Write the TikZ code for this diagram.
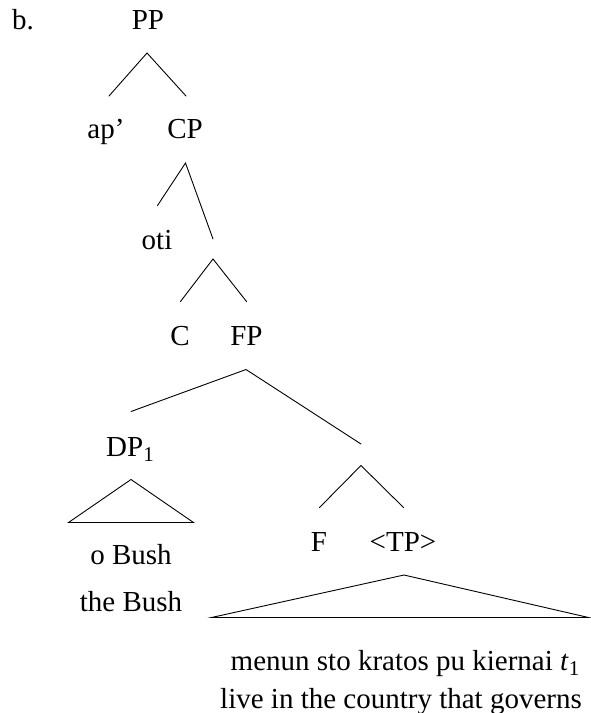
\documentclass[tikz,border=0pt]{standalone}
\usepackage{fontspec}
\setmainfont{Liberation Serif}
\newcommand\mysub[1]{\raisebox{-0.2em}{\fontsize{21}{24}\selectfont #1}}
\begin{document}
\begin{tikzpicture}[x=1pt,y=-1pt,
  lbl/.style={inner sep=0pt,anchor=base,font=\fontsize{29}{34}\selectfont},
  edge/.style={line width=0.9pt,line cap=round,line join=miter}]
\useasboundingbox (0,0) rectangle (590,713);
% labels
\node[lbl,anchor=base west] (ex) at (12,29) {b.};
\node[lbl] (PP) at (148,29) {PP};
\node[lbl] (ap) at (106,138) {ap’};
\node[lbl] (CP) at (185,138) {CP};
\node[lbl] (oti) at (157,249) {oti};
\node[lbl] (C) at (180,345) {C};
\node[lbl] (FP) at (246.5,345) {FP};
\node[lbl] (DP) at (130,456) {DP\mysub{1}};
\node[lbl] (obush) at (131,564) {o Bush};
\node[lbl] (thebush) at (131,611) {the Bush};
\node[lbl] (F) at (319,551) {F};
\node[lbl] (TP) at (403,551) {<TP>};
\node[lbl] (menun) at (405,670) {menun sto kratos pu kiernai \textit{t}\mysub{1}};
\node[lbl] (live) at (401,708) {live in the country that governs};
% branch points
\coordinate (PPa) at (147,53);
\coordinate (PPl) at (109,96);
\coordinate (PPr) at (186,96);
\coordinate (CPa) at (185.5,163);
\coordinate (CPl) at (157.5,205.5);
\coordinate (CPr) at (213,239);
\coordinate (Xa) at (213,259);
\coordinate (Xl) at (180.5,301.5);
\coordinate (Xr) at (246.5,301.5);
\coordinate (FPa) at (246,369.5);
\coordinate (FPl) at (131,411.5);
\coordinate (FPr) at (361,444);
\coordinate (Ya) at (361,465.5);
\coordinate (Yl) at (319.5,507.5);
\coordinate (Yr) at (403.5,507.5);
\coordinate (DPt) at (131,479.5);
\coordinate (DPl) at (68.5,522.5);
\coordinate (DPr) at (193.5,522.5);
\coordinate (TPt) at (404,575);
\coordinate (TPl) at (211.5,617.5);
\coordinate (TPr) at (588.5,617.5);
% edges
\draw[edge] (PPl) -- (PPa) -- (PPr);
\draw[edge] (CPl) -- (CPa) -- (CPr);
\draw[edge] (Xl) -- (Xa) -- (Xr);
\draw[edge] (FPl) -- (FPa) -- (FPr);
\draw[edge] (Yl) -- (Ya) -- (Yr);
\draw[edge] (DPt) -- (DPl) -- (DPr) -- cycle;
\draw[edge] (TPt) -- (TPl) -- (TPr) -- cycle;
\end{tikzpicture}
\end{document}
